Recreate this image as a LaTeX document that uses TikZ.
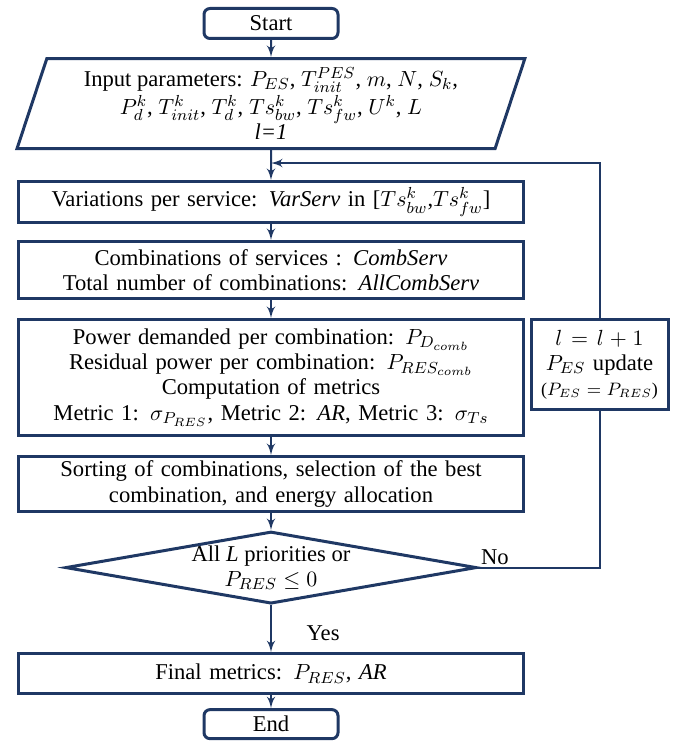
\documentclass[tikz,border=0pt]{standalone}
\usepackage{fontspec}
\setmainfont{Liberation Serif}
\usepackage{tikz}
\usetikzlibrary{shapes.geometric, arrows, positioning, calc}
\definecolor{navy}{RGB}{31,56,100}

\begin{document}
\begin{tikzpicture}[
    node distance=9pt,
    font=\fontsize{11.3}{12.6}\selectfont,
    term/.style={rectangle, draw=navy, line width=1.5pt, rounded corners=3pt, minimum width=67pt, inner sep=0pt},
    block/.style={rectangle, draw=navy, line width=1.5pt, text width=245pt, text centered, minimum width=252pt, inner xsep=3.5pt, inner ysep=0pt},
    io/.style={trapezium, trapezium left angle=71, trapezium right angle=109, trapezium stretches=true, draw=navy, line width=1.5pt, minimum width=254pt, minimum height=45pt, align=center, inner sep=0pt},
    decision/.style={diamond, draw=navy, line width=1.5pt, aspect=5.7, inner sep=0pt, minimum width=204pt, minimum height=35pt, align=center},
    line/.style={draw=navy, line width=1pt},
    arrow/.style={line, -latex'}
]
\useasboundingbox (-135.5pt,11.75pt) rectangle ++(336.5pt,-371.5pt);

\node [term, minimum height=15pt] (start) at (0,0) {Start};
\node [io, below=8.5pt of start] (input) {Input parameters: $P_{ES}$, $T^{PES}_{init}$, $m$, $N$, $S_k$,\\[1.5pt] $P^k_d$, $T^k_{init}$, $T^k_d$, $Ts^k_{bw}$, $Ts^k_{fw}$, $U^k$, $L$\\ \textit{l=1}};
\node [block, minimum height=20.5pt, below=15pt of input] (vars) {Variations per service: \textit{VarServ} in [$Ts^k_{bw}$,$Ts^k_{fw}$]};
\node [block, minimum height=28.5pt, below=8pt of vars] (comb) {Combinations of services : \textit{CombServ}\\ Total number of combinations: \textit{AllCombServ}};
\node [block, minimum height=58pt, below=of comb] (calc) {Power demanded per combination: $P_{D_{comb}}$\\ Residual power per combination: $P_{RES_{comb}}$\\ Computation of metrics\\ Metric 1: $\sigma_{P_{RES}}$, Metric 2: \textit{AR}, Metric 3: $\sigma_{Ts}$};
\node [block, minimum height=27.5pt, below=of calc] (sort) {Sorting of combinations, selection of the best\\ combination, and energy allocation};
\node [decision, below=8.5pt of sort] (check) {All \textit{L} priorities or\\ $P_{RES} \le 0$};
\node [block, minimum height=20pt, below=23.5pt of check] (final) {Final metrics: $P_{RES}$, \textit{AR}};
\node [term, minimum height=14.5pt, below=6.5pt of final] (end) {End};
\node [block, text width=64pt, minimum width=68.5pt, minimum height=45pt, inner xsep=2pt, anchor=north west] (update) at ([xshift=2.5pt]calc.north east) {$l = l + 1$\\ $P_{ES}$ update\\ {\small ($P_{ES} = P_{RES}$)}};
\coordinate [above=8.5pt of vars.north] (join);

\path [arrow] (start) -- (input);
\path [arrow] (input) -- (vars);
\path [arrow] (vars) -- (comb);
\path [arrow] (comb) -- (calc);
\path [arrow] (calc) -- (sort);
\path [arrow] (sort) -- (check);
\path [arrow] (check) -- node[right=14pt, pos=0.6] {Yes} (final);
\path [arrow] (final) -- (end);
\path [line] (check.east) node[anchor=south west, inner sep=1pt] {No} -- (check.east -| update) -- (update.south);
\path [arrow] (update.north) |- (join);
\end{tikzpicture}
\end{document}
